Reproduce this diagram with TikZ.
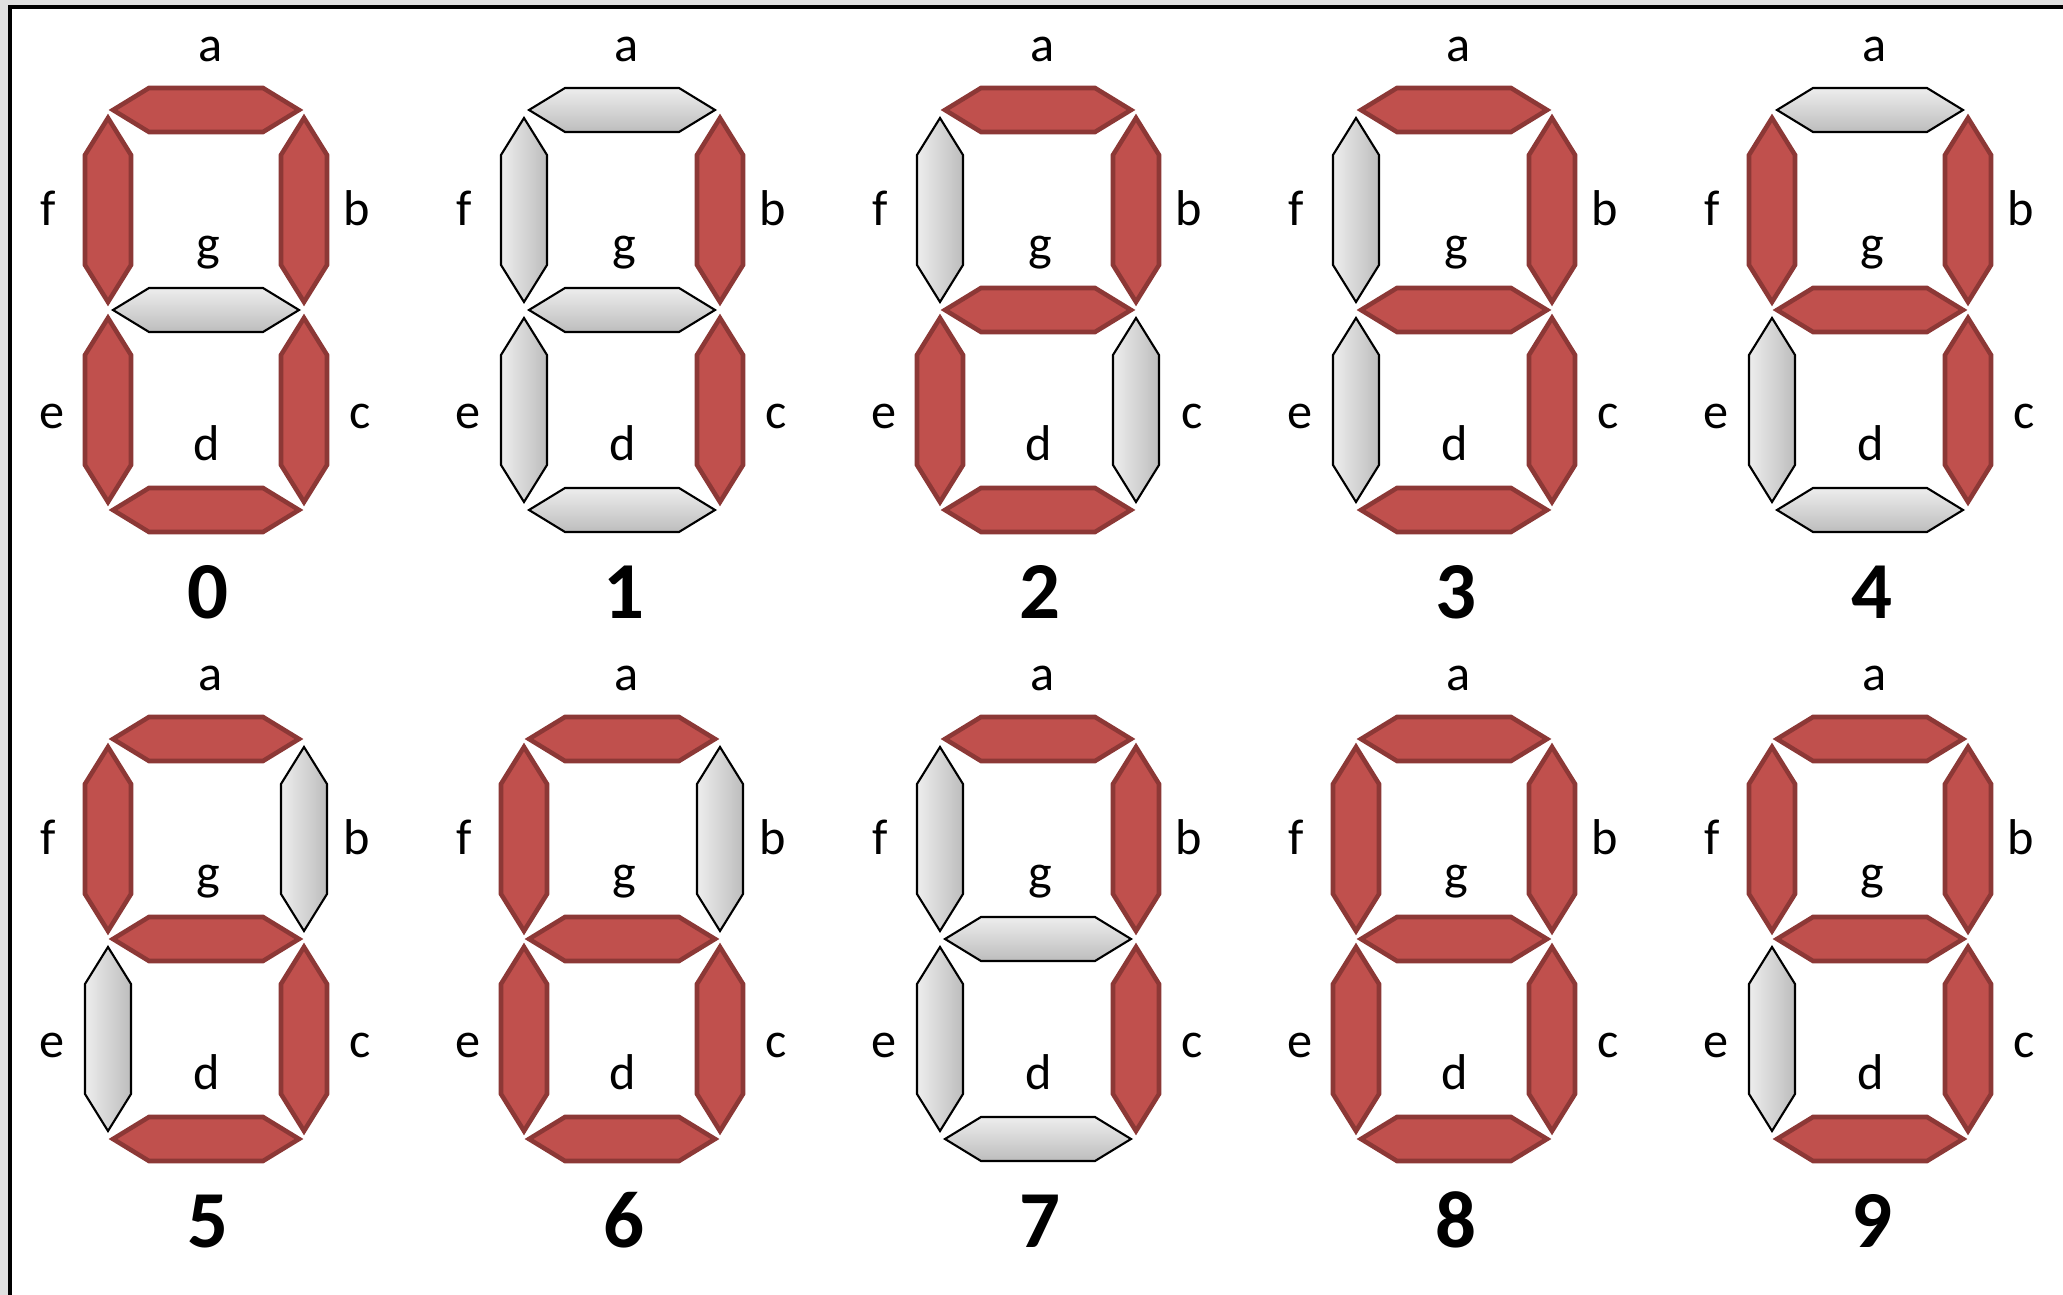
\documentclass[tikz,border=0pt]{standalone}
\usepackage{fontspec}
\setmainfont{Carlito}
\usepackage{tikz}
\usepackage{xcolor}
\definecolor{segred}{HTML}{C0504D}
\definecolor{segedge}{HTML}{8C3836}
\definecolor{offlight}{HTML}{EDEDED}
\definecolor{offdark}{HTML}{BDBDBD}
\definecolor{framegray}{HTML}{E0E0E0}

% one segment, placed relative to the digit centre
\newcommand{\hseg}[2]{\path[#1] (-93,#2) -- ++(36,-22) -- ++(114,0) -- ++(36,22) -- ++(-36,22) -- ++(-114,0) -- cycle;}
\newcommand{\vseg}[3]{\path[#1] (#2,{#3-92}) -- ++(23,37) -- ++(0,110) -- ++(-23,37) -- ++(-23,-37) -- ++(0,-110) -- cycle;}

% #1 scope options, #2 digit, #3-#9 segments a..g (on/off)
\newcommand{\sevenseg}[9]{%
  \begin{scope}[#1]
    \hseg{seg #3 h}{-200}
    \vseg{seg #4 v}{98}{-100}
    \vseg{seg #5 v}{98}{100}
    \hseg{seg #6 h}{200}
    \vseg{seg #7 v}{-98}{100}
    \vseg{seg #8 v}{-98}{-100}
    \hseg{seg #9 h}{0}
    \node[lbl] (a#2) at (5,-248) {a};
    \node[lbl] (b#2) at (151,-84) {b};
    \node[lbl] (c#2) at (154,119) {c};
    \node[lbl] (d#2) at (1,151) {d};
    \node[lbl] (e#2) at (-154,119) {e};
    \node[lbl] (f#2) at (-158,-84) {f};
    \node[lbl] (g#2) at (2,-49) {g};
    \node[num] (n#2) at (2,309) {#2};
  \end{scope}}

\begin{document}
\begin{tikzpicture}[
  x=0.01cm, y=-0.01cm,
  seg on h/.style={draw=segedge, fill=segred, line width=1.3pt},
  seg on v/.style={seg on h},
  seg off h/.style={draw=black, line width=0.6pt, top color=offlight, bottom color=offdark},
  seg off v/.style={draw=black, line width=0.6pt, left color=offlight, right color=offdark},
  lbl/.style={anchor=base, inner sep=0pt, font=\fontsize{14.3}{16}\selectfont},
  num/.style={anchor=base, inner sep=0pt, font=\fontsize{23}{27}\selectfont\bfseries}
]
  \useasboundingbox (0,0) rectangle (2063,1295);

  % frame
  \fill[framegray] (0,0) rectangle (2063,1295);
  \fill[white] (10,7) rectangle (2063,1295);
  \draw[line width=0.04cm] (10.3,1295) -- (10.3,6.7) -- (2063,6.7);

  % top row
  \sevenseg{shift={(206,310)}}{0}{on}{on}{on}{on}{on}{on}{off}
  \sevenseg{shift={(622,310)}}{1}{off}{on}{on}{off}{off}{off}{off}
  \sevenseg{shift={(1038,310)}}{2}{on}{on}{off}{on}{on}{off}{on}
  \sevenseg{shift={(1454,310)}}{3}{on}{on}{on}{on}{off}{off}{on}
  \sevenseg{shift={(1870,310)}}{4}{off}{on}{on}{off}{off}{on}{on}

  % bottom row
  \sevenseg{shift={(206,939)}}{5}{on}{off}{on}{on}{off}{on}{on}
  \sevenseg{shift={(622,939)}}{6}{on}{off}{on}{on}{on}{on}{on}
  \sevenseg{shift={(1038,939)}}{7}{on}{on}{on}{off}{off}{off}{off}
  \sevenseg{shift={(1454,939)}}{8}{on}{on}{on}{on}{on}{on}{on}
  \sevenseg{shift={(1870,939)}}{9}{on}{on}{on}{on}{off}{on}{on}
\end{tikzpicture}
\end{document}
